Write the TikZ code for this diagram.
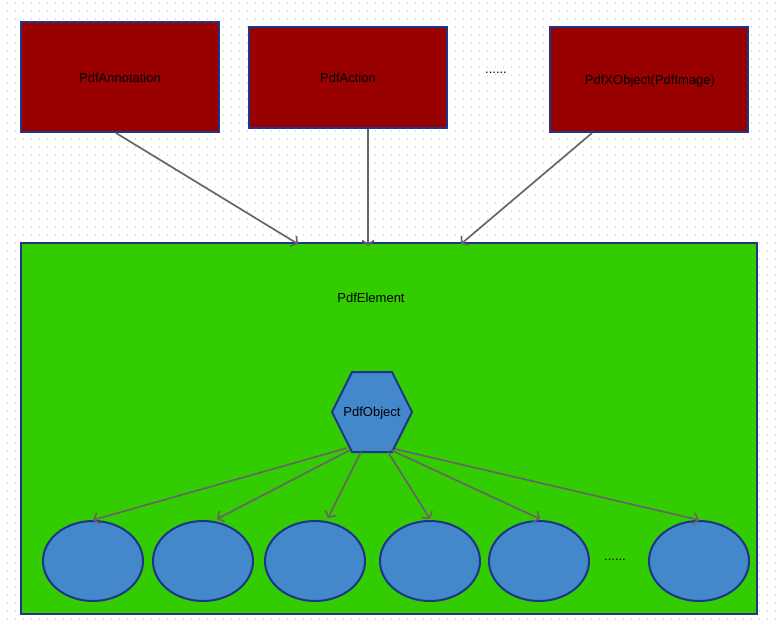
\documentclass[tikz,border=0pt]{standalone}
\usepackage{fontspec}
\setmainfont{Liberation Sans}
\usetikzlibrary{arrows.meta,shapes.geometric}
\definecolor{boxred}{HTML}{990000}
\definecolor{edgeblue}{HTML}{1F3585}
\definecolor{bggreen}{HTML}{33CC00}
\definecolor{nodeblue}{HTML}{4488CC}
\definecolor{arrowgray}{HTML}{666666}
\definecolor{griddot}{HTML}{DDDDDD}
\tikzset{
  redbox/.style={draw=edgeblue, line width=2pt, fill=boxred},
  lbl/.style={font=\fontsize{13}{15}\selectfont, inner sep=0pt, text=black},
  conn/.style={draw=arrowgray, line width=1.7pt, -{Straight Barb[length=4.5pt,width=12pt]}},
  leaf/.style={draw=edgeblue, line width=2pt, fill=nodeblue, ellipse, minimum width=100pt, minimum height=80pt, inner sep=0pt},
}
\begin{document}
\begin{tikzpicture}[x=1pt,y=-1pt]
\useasboundingbox (0,0) rectangle (778,626);
\fill[white] (0,0) rectangle (778,626);
% dotted grid
\foreach \gx in {7,15,...,775} {
  \draw[griddot, line width=1pt, dash pattern=on 1.5pt off 6.5pt] (\gx,2.2) -- (\gx,626);
}
% top boxes
\draw[redbox] (21,22) rectangle (219,132);
\node[lbl] (annot) at (120,78) {PdfAnnotation};
\coordinate (annotS) at (116,133);
\draw[redbox] (249,27) rectangle (447,128);
\node[lbl] (action) at (348,78) {PdfAction};
\coordinate (actionS) at (368,129);
\node[lbl] (dots1) at (496,72.5) {......};
\draw[redbox] (550,27) rectangle (748,132);
\node[lbl] (xobj) at (650,81) {PdfXObject(PdfImage)};
\coordinate (xobjS) at (592,133);
% green element
\draw[draw=edgeblue, line width=2pt, fill=bggreen] (21,243) rectangle (757,614);
\node[lbl] (elem) at (371,298) {PdfElement};
\coordinate (eA) at (298,244);
\coordinate (eB) at (368,246);
\coordinate (eC) at (461,244);
\draw[conn] (annotS) -- (eA);
\draw[conn] (actionS) -- (eB);
\draw[conn] (xobjS) -- (eC);
% hexagon
\draw[draw=edgeblue, line width=2pt, fill=nodeblue] (332,412) -- (352,372) -- (392,372) -- (412,412) -- (392,452) -- (352,452) -- cycle;
\node[lbl] (obj) at (372,413) {PdfObject};
% leaves
\node[leaf] (l1) at (93,561) {};
\node[leaf] (l2) at (203,561) {};
\node[leaf] (l3) at (315,561) {};
\node[leaf] (l4) at (430,561) {};
\node[leaf] (l5) at (539,561) {};
\node[lbl] (dots2) at (615,559.5) {......};
\node[leaf] (l6) at (699,561) {};
\coordinate (s1) at (347,448);
\coordinate (s2) at (350,450);
\coordinate (s3) at (361,452);
\coordinate (s4) at (388,452);
\coordinate (s5) at (391,450);
\coordinate (s6) at (395,449);
\draw[conn] (s1) -- (l1.north);
\draw[conn] (s2) -- ([xshift=14pt,yshift=1pt]l2.north);
\draw[conn] (s3) -- ([xshift=13pt,yshift=2pt]l3.north);
\draw[conn] (s4) -- ([yshift=1pt]l4.north);
\draw[conn] (s5) -- ([xshift=1pt,yshift=1pt]l5.north);
\draw[conn] (s6) -- (l6.north);
\end{tikzpicture}
\end{document}
